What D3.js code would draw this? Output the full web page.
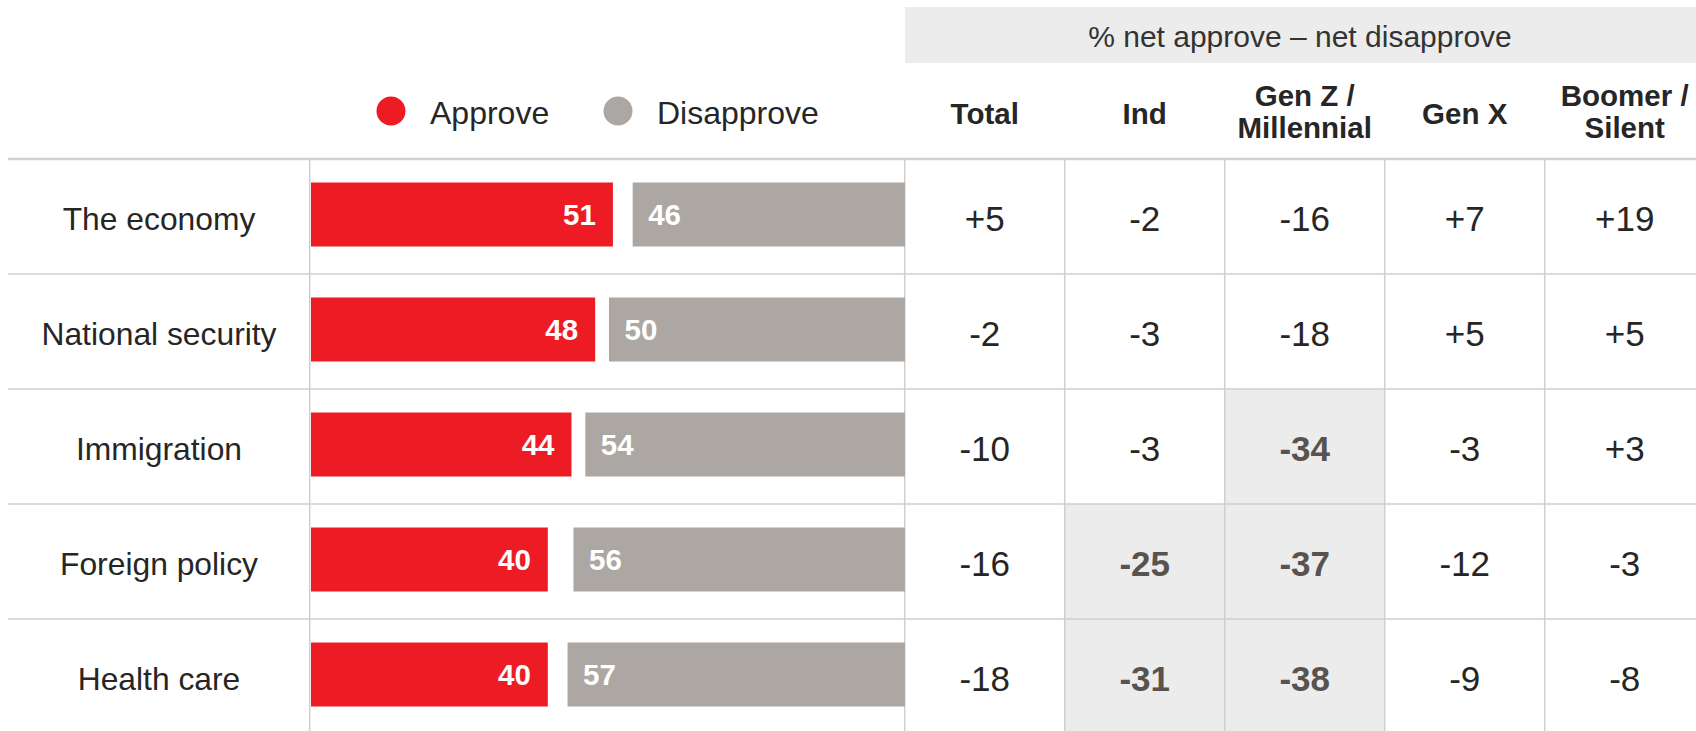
<!DOCTYPE html>
<html>
<head>
<meta charset="utf-8">
<script src="https://cdn.jsdelivr.net/npm/d3@7"></script>
<style>
  body { margin: 0; background: #fff; }
  svg text { font-family: "Liberation Sans", Arial, sans-serif; }
</style>
</head>
<body>
<div id="vis"></div>
<script>
//Data
var categories = ["The economy", "National security", "Immigration", "Foreign policy", "Health care"];
var approve    = [51, 48, 44, 40, 40];
var disapprove = [46, 50, 54, 56, 57];

var columns   = ["Total", "Ind", "Gen Z /\nMillennial", "Gen X", "Boomer /\nSilent"];
var netTotal  = [5, -2, -10, -16, -18];
var netInd    = [-2, -3, -3, -25, -31];
var netGenZ   = [-16, -18, -34, -37, -38];
var netGenX   = [7, 5, -3, -12, -9];
var netBoomer = [19, 5, 3, -3, -8];
//cells flagged in the table as [row, column]
var highlighted = [[2, 2], [3, 1], [3, 2], [4, 1], [4, 2]];

var legendKeys = ["Approve", "Disapprove"];
var headerTitle = "% net approve \u2013 net disapprove";

//Canvas
var width = 1696, height = 731;
var red = "#ed1c24", grey = "#aca7a3", lineCol = "#cfcfcf", textCol = "#262626";

var svg = d3.select("#vis").append("svg")
    .attr("width", width)
    .attr("height", height);

//Scales
var y = d3.scaleBand().domain(categories).range([159, 159 + 115 * 5]);
var x = d3.scaleLinear().domain([0, 100]).range([0, 592]);
var barLeft = 311, barRight = 905;
var col = d3.scaleBand().domain(d3.range(columns.length)).range([904.7, 904.7 + 160 * 5]);
var netCols = [netTotal, netInd, netGenZ, netGenX, netBoomer];
var fmt = function(v) { return (v > 0 ? "+" : "") + v; };

//Highlighted cells
svg.selectAll(".hl")
   .data(highlighted)
   .enter().append("rect")
   .attr("x", function(d) { return col(d[1]); })
   .attr("y", function(d) { return y(categories[d[0]]); })
   .attr("width", col.bandwidth())
   .attr("height", y.bandwidth())
   .style("fill", "#ececec");

//Grid lines
svg.selectAll(".hline")
   .data(categories)
   .enter().append("line")
   .attr("x1", 8).attr("x2", width)
   .attr("y1", function(d) { return y(d); })
   .attr("y2", function(d) { return y(d); })
   .attr("stroke", lineCol)
   .attr("stroke-width", function(d, i) { return i == 0 ? 2.5 : 1.5; });

var vx = [309.7].concat(d3.range(columns.length).map(function(i) { return col(i); }));
svg.selectAll(".vline")
   .data(vx)
   .enter().append("line")
   .attr("x1", function(d) { return d; }).attr("x2", function(d) { return d; })
   .attr("y1", 160).attr("y2", height)
   .attr("stroke", lineCol)
   .attr("stroke-width", 1.5);

//Header band
svg.append("rect")
   .attr("x", 905).attr("y", 7)
   .attr("width", width - 905).attr("height", 56)
   .style("fill", "#ececec");
svg.append("text")
   .attr("x", 1300).attr("y", 47)
   .attr("text-anchor", "middle")
   .attr("font-size", 30)
   .style("fill", "#333")
   .text(headerTitle);

//Column headers
var heads = svg.selectAll(".colhead")
   .data(columns)
   .enter().append("text")
   .attr("text-anchor", "middle")
   .attr("font-size", 29.5)
   .attr("font-weight", "bold")
   .style("fill", textCol);
heads.each(function(d, i) {
  var lines = d.split("\n");
  var t = d3.select(this);
  lines.forEach(function(l, j) {
    t.append("tspan")
     .attr("x", col(i) + col.bandwidth() / 2)
     .attr("y", lines.length == 1 ? 123.5 : 106 + j * 32)
     .text(l);
  });
});

//Legend
var legend = svg.selectAll(".legend")
   .data(legendKeys)
   .enter().append("g")
   .attr("transform", function(d, i) { return "translate(" + (391 + i * 227) + ",111)"; });
legend.append("circle")
   .attr("r", 14.5)
   .style("fill", function(d, i) { return i == 0 ? red : grey; });
legend.append("text")
   .attr("x", 39).attr("y", 13)
   .attr("font-size", 32)
   .style("fill", textCol)
   .text(function(d) { return d; });

//Row labels
svg.selectAll(".rowlabel")
   .data(categories)
   .enter().append("text")
   .attr("x", 159)
   .attr("y", function(d) { return y(d) + y.bandwidth() / 2 + 13.5; })
   .attr("text-anchor", "middle")
   .attr("font-size", 31.8)
   .style("fill", textCol)
   .text(function(d) { return d; });

//Bars
var rows = svg.selectAll(".row")
   .data(categories)
   .enter().append("g")
   .attr("transform", function(d) { return "translate(0," + (y(d) + 23.5) + ")"; });

rows.append("rect")
   .attr("x", barLeft)
   .attr("width", function(d, i) { return x(approve[i]); })
   .attr("height", 64)
   .style("fill", red);
rows.append("rect")
   .attr("x", function(d, i) { return barRight - x(disapprove[i]); })
   .attr("width", function(d, i) { return x(disapprove[i]); })
   .attr("height", 64)
   .style("fill", grey);

rows.append("text")
   .attr("x", function(d, i) { return barLeft + x(approve[i]) - 17; })
   .attr("y", 42)
   .attr("text-anchor", "end")
   .attr("font-size", 29.5)
   .attr("font-weight", "bold")
   .style("fill", "#fff")
   .text(function(d, i) { return approve[i]; });
rows.append("text")
   .attr("x", function(d, i) { return barRight - x(disapprove[i]) + 15.5; })
   .attr("y", 42)
   .attr("font-size", 29.5)
   .attr("font-weight", "bold")
   .style("fill", "#fff")
   .text(function(d, i) { return disapprove[i]; });

//Table values
var isHl = function(r, c) { return highlighted.some(function(h) { return h[0] == r && h[1] == c; }); };
netCols.forEach(function(series, c) {
  svg.selectAll(".val" + c)
     .data(series)
     .enter().append("text")
     .attr("x", col(c) + col.bandwidth() / 2)
     .attr("y", function(d, r) { return y(categories[r]) + y.bandwidth() / 2 + 14.5; })
     .attr("text-anchor", "middle")
     .attr("font-size", 35)
     .attr("font-weight", function(d, r) { return isHl(r, c) ? "bold" : "normal"; })
     .style("fill", function(d, r) { return isHl(r, c) ? "#58534f" : textCol; })
     .text(fmt);
});
</script>
</body>
</html>
